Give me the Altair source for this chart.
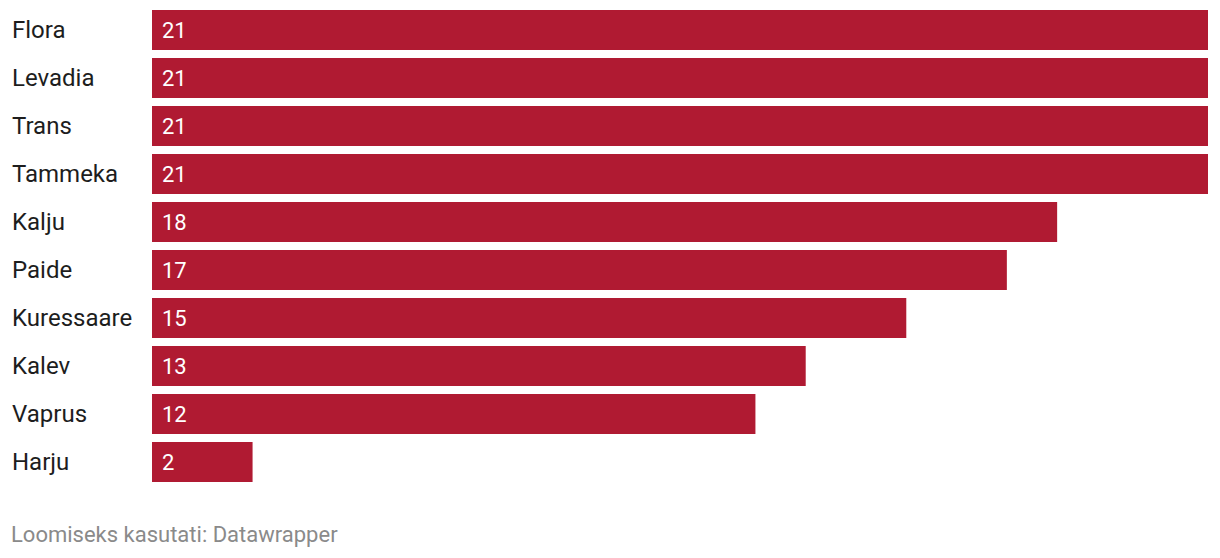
import altair as alt
import pandas as pd

teams = ["Flora", "Levadia", "Trans", "Tammeka", "Kalju", "Paide", "Kuressaare", "Kalev", "Vaprus", "Harju"]
values = [21, 21, 21, 21, 18, 17, 15, 13, 12, 2]
footer_text = "Loomiseks kasutati: Datawrapper"

df = pd.DataFrame({"team": teams, "value": values})
FONT = "Roboto"

y_enc = alt.Y("team:N", sort=None, axis=None,
              scale=alt.Scale(paddingInner=1/6, paddingOuter=0))

base = alt.Chart(df)

bars = base.mark_bar(color="#b01a32").encode(
    x=alt.X("value:Q", axis=None, scale=alt.Scale(domain=[0, 21], nice=False, zero=True)),
    y=y_enc,
)

vals = base.mark_text(align="left", baseline="middle", color="white", font=FONT, fontSize=22, dy=1).encode(
    x=alt.value(10),
    y=y_enc,
    text="value:Q",
)

names = base.mark_text(align="left", baseline="middle", color="#1d1d1d", font=FONT, fontSize=24, dy=1).encode(
    x=alt.value(-140),
    y=y_enc,
    text="team:N",
)

footer = alt.Chart(pd.DataFrame({"t": [footer_text]})).mark_text(
    align="left", baseline="alphabetic", color="#8a8a8a", font=FONT, fontSize=22
).encode(
    x=alt.value(-141),
    y=alt.value(532),
    text="t:N",
)

chart = alt.layer(bars, vals, names, footer).properties(
    width=1056,
    height=472,
    autosize=alt.AutoSizeParams(type="none"),
    padding={"left": 144, "top": 2, "right": 4, "bottom": 68},
).configure(background="white").configure_view(stroke=None, strokeWidth=0)

chart.save("out.html", embed_options={"renderer": "svg", "actions": False})
